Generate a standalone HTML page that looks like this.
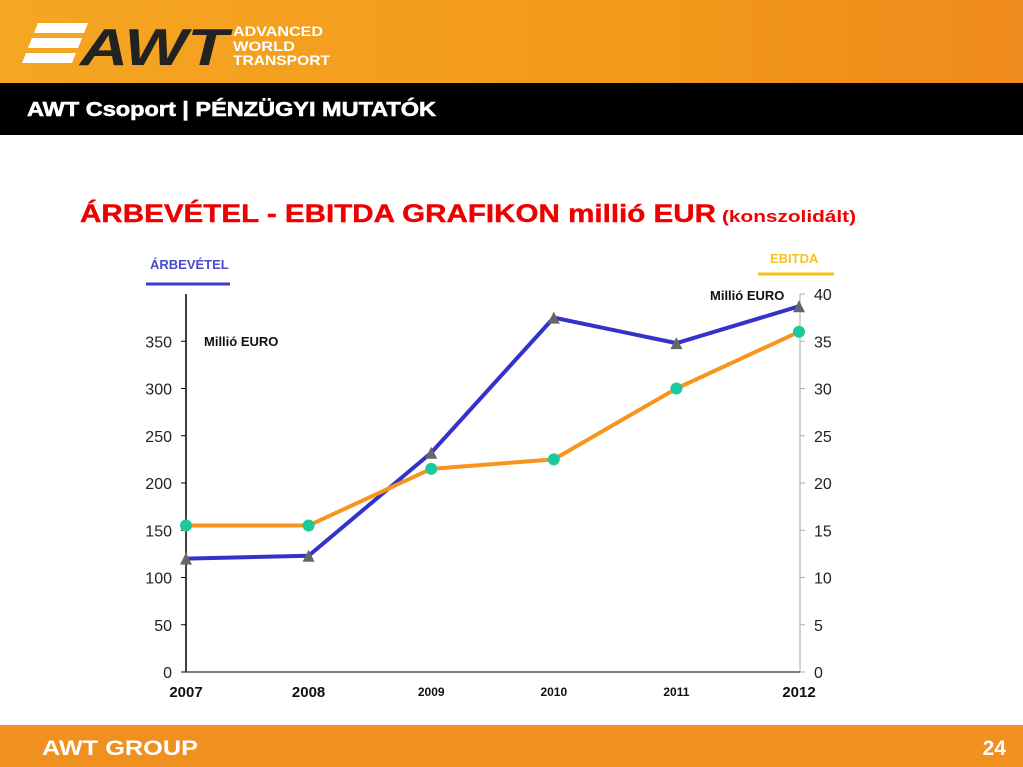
<!DOCTYPE html>
<html><head><meta charset="utf-8">
<style>
body{margin:0;width:1023px;height:767px;position:relative;overflow:hidden;background:#fff;font-family:"Liberation Sans",sans-serif}
.hdr{position:absolute;left:0;top:0;width:1023px;height:83px;background:linear-gradient(90deg,#f5a623,#f39a1a 60%,#ef8a1c)}
.bar{position:absolute;left:0;top:83px;width:1023px;height:52px;background:#000}
.foot{position:absolute;left:0;top:725px;width:1023px;height:42px;background:#f0901e}
</style></head><body>
<div class="hdr">
<svg width="340" height="83">
<polygon points="38,23 88,23 84,33 34,33" fill="#fff"/>
<polygon points="32,38 82,38 78,48 28,48" fill="#fff"/>
<polygon points="26,53 76,53 72,63 22,63" fill="#fff"/>
<text x="80" y="65" font-size="52" font-weight="bold" font-style="italic" fill="#222" font-family="Liberation Sans" textLength="148" lengthAdjust="spacingAndGlyphs">AWT</text>
<text x="233" y="36" font-size="14" font-weight="bold" fill="#fff" textLength="90" lengthAdjust="spacingAndGlyphs">ADVANCED</text>
<text x="233" y="51" font-size="14" font-weight="bold" fill="#fff" textLength="62" lengthAdjust="spacingAndGlyphs">WORLD</text>
<text x="233" y="65" font-size="14" font-weight="bold" fill="#fff" textLength="97" lengthAdjust="spacingAndGlyphs">TRANSPORT</text>
</svg></div>
<div class="bar"><svg width="500" height="52" style="position:absolute;left:0;top:0"><text x="27" y="33" fill="#fff" font-weight="bold" font-size="20" textLength="409" lengthAdjust="spacingAndGlyphs" stroke="#fff" stroke-width="0.6">AWT Csoport | PÉNZÜGYI MUTATÓK</text></svg></div>
<svg width="1023" height="60" style="position:absolute;left:0;top:190px">
<text x="80" y="32" fill="#e00" font-weight="bold" font-size="25" textLength="636" lengthAdjust="spacingAndGlyphs" stroke="#e00" stroke-width="0.4">ÁRBEVÉTEL  - EBITDA GRAFIKON  millió EUR</text>
<text x="722" y="32" fill="#e00" font-weight="bold" font-size="17" textLength="134" lengthAdjust="spacingAndGlyphs">(konszolidált)</text>
</svg>
<svg id="chart" width="1023" height="767" style="position:absolute;left:0;top:0"></svg>
<div class="foot">
<svg width="1023" height="42" style="position:absolute;left:0;top:0">
<text x="42" y="30" fill="#fff" font-weight="bold" font-size="21" textLength="156" lengthAdjust="spacingAndGlyphs">AWT GROUP</text>
<text x="1006" y="30" fill="#fff" font-weight="bold" font-size="21" text-anchor="end">24</text>
</svg></div>
<script>
const years=["2007","2008","2009","2010","2011","2012"];
const revenue=[120,123,232,375,348,387];
const ebitda=[15.5,15.5,21.5,22.5,30,36];
const leftTicks=[0,50,100,150,200,250,300,350];
const rightTicks=[0,5,10,15,20,25,30,35,40];
const NS="http://www.w3.org/2000/svg",svg=document.getElementById('chart');
const x0=186,x1=799,y0=672,yTop=294;
const xs=i=>x0+i*(x1-x0)/(years.length-1);
const yl=v=>y0-v*(y0-yTop)/400;
const yr=v=>y0-v*(y0-yTop)/40;
function el(t,a,txt){const e=document.createElementNS(NS,t);for(const k in a)e.setAttribute(k,a[k]);if(txt!==undefined)e.textContent=txt;svg.appendChild(e);return e;}
let e;
e=el('line',{x1:x0,y1:yTop,x2:x0,y2:y0,stroke:'#000','stroke-width':1.5});

e=el('line',{x1:800,y1:yTop,x2:800,y2:y0,stroke:'#aaa','stroke-width':1});

e=el('line',{x1:x0,y1:y0,x2:800,y2:y0,stroke:'#555','stroke-width':1.5});

leftTicks.forEach(v=>{el('line',{x1:x0-5,y1:yl(v),x2:x0,y2:yl(v),stroke:'#000'});
e=el('text',{x:172,y:yl(v)+6,'font-size':16,'text-anchor':'end',fill:'#222'},v);
});
rightTicks.forEach(v=>{el('line',{x1:800,y1:yr(v),x2:805,y2:yr(v),stroke:'#aaa'});
e=el('text',{x:814,y:yr(v)+6,'font-size':16,fill:'#222'},v);
});
years.forEach((y,i)=>{const big=(i<2||i==5);
e=el('text',{x:xs(i),y:big?697:696,'font-size':big?15:12,'font-weight':'bold','text-anchor':'middle',fill:'#111'},y);
});
e=el('polyline',{points:revenue.map((v,i)=>xs(i)+','+yl(v)).join(' '),fill:'none',stroke:'#3333cc','stroke-width':4});

e=el('polyline',{points:ebitda.map((v,i)=>xs(i)+','+yr(v)).join(' '),fill:'none',stroke:'#f7941d','stroke-width':4});

revenue.forEach((v,i)=>{const x=xs(i),y=yl(v);
e=el('polygon',{points:`${x-6},${y+6} ${x+6},${y+6} ${x},${y-6}`,fill:'#666'});
});
ebitda.forEach((v,i)=>{
e=el('circle',{cx:xs(i),cy:yr(v),r:6,fill:'#1dc99a'});
});
e=el('text',{x:150,y:269,'font-size':13,'font-weight':'bold',fill:'#4a4acc'},'ÁRBEVÉTEL');

el('line',{x1:146,y1:284,x2:230,y2:284,stroke:'#3a3acc','stroke-width':3});
e=el('text',{x:770,y:263,'font-size':13,'font-weight':'bold',fill:'#f7c21e'},'EBITDA');

el('line',{x1:758,y1:274,x2:834,y2:274,stroke:'#f7c21e','stroke-width':3});
e=el('text',{x:204,y:346,'font-size':13,'font-weight':'bold',fill:'#111'},'Millió EURO');

e=el('text',{x:710,y:300,'font-size':13,'font-weight':'bold',fill:'#111'},'Millió EURO');

</script>
</body></html>
